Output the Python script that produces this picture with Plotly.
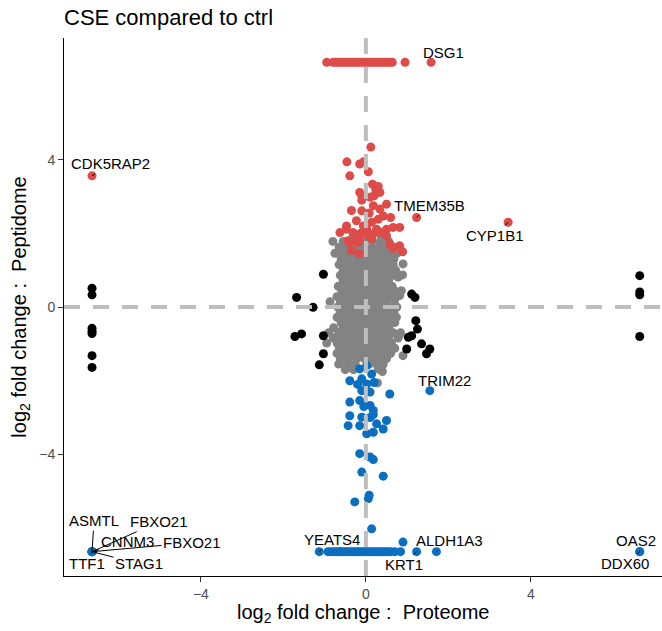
import plotly.graph_objects as go

# ---------------- data (log2 fold changes) ----------------
# not significant (grey)
gray_x = [
    -0.31, 0.10, 0.38,
    -0.80, -0.55, -0.30, -0.05, 0.15, 0.35, 0.55,
    -0.65, -0.45, -0.25, -0.05, 0.15, 0.32, 0.50, 0.72,
    -0.75, -0.55, -0.36, -0.18, 0.00, 0.18, 0.36, 0.55, 0.75,
    -0.60, -0.42, -0.22, -0.04, 0.14, 0.32, 0.50, 0.68,
    -0.65, -0.45, -0.26, -0.08, 0.10, 0.28, 0.46, 0.66, 0.90,
    -0.55, -0.36, -0.18, 0.00, 0.18, 0.36, 0.55, 0.72,
    -0.62, -0.44, -0.25, -0.06, 0.12, 0.30, 0.50, 0.66, 0.89,
    -0.55, -0.36, -0.18, 0.00, 0.18, 0.36, 0.55, 0.78,
    -0.67, -0.46, -0.27, -0.08, 0.10, 0.28, 0.46, 0.64,
    -0.58, -0.40, -0.20, -0.02, 0.16, 0.34, 0.52, 0.72, 0.86,
    -0.70, -0.50, -0.30, -0.12, 0.06, 0.24, 0.42, 0.60, 0.82,
    -0.87, -0.62, -0.42, -0.22, -0.04, 0.14, 0.32, 0.50, 0.70,
    -0.68, -0.50, -0.30, -0.12, 0.06, 0.24, 0.42, 0.60, 0.75,
    -0.62, -0.42, -0.22, -0.04, 0.14, 0.32, 0.50, 0.68,
    -0.70, -0.50, -0.30, -0.12, 0.06, 0.24, 0.42, 0.60, 0.74,
    -0.60, -0.40, -0.20, -0.02, 0.16, 0.34, 0.52, 0.70,
    -0.78, -0.55, -0.35, -0.16, 0.02, 0.20, 0.38, 0.56, 0.80,
    -0.90, -0.66, -0.45, -0.26, -0.08, 0.10, 0.28, 0.46, 0.66, 0.84,
    -0.79, -0.58, -0.38, -0.18, 0.00, 0.18, 0.36, 0.55, 0.78,
    -0.95, -0.70, -0.50, -0.30, -0.10, 0.08, 0.26, 0.44, 0.62,
    -0.64, -0.44, -0.24, -0.06, 0.12, 0.30, 0.50, 0.70, 0.90,
    -0.70, -0.50, -0.30, -0.12, 0.06, 0.24, 0.42, 0.60,
    -0.62, -0.42, -0.22, -0.04, 0.14, 0.32, 0.50,
    -0.66, -0.46, -0.26, 0.08, 0.26, 0.42,
    -0.50, -0.30, 0.30, 0.40,
    0.28,
]
gray_y = [
    1.92, 1.92, 1.92,
    1.78, 1.78, 1.78, 1.78, 1.78, 1.78, 1.78,
    1.62, 1.62, 1.62, 1.62, 1.62, 1.62, 1.62, 1.62,
    1.46, 1.46, 1.46, 1.46, 1.46, 1.46, 1.46, 1.46, 1.46,
    1.30, 1.30, 1.30, 1.30, 1.30, 1.30, 1.30, 1.30,
    1.15, 1.15, 1.15, 1.15, 1.15, 1.15, 1.15, 1.15, 1.17,
    1.00, 1.00, 1.00, 1.00, 1.00, 1.00, 1.00, 1.00,
    0.86, 0.86, 0.86, 0.86, 0.86, 0.86, 0.86, 0.86, 0.87,
    0.71, 0.71, 0.71, 0.71, 0.71, 0.71, 0.71, 0.81,
    0.56, 0.56, 0.56, 0.56, 0.56, 0.56, 0.56, 0.56,
    0.42, 0.42, 0.42, 0.42, 0.42, 0.42, 0.42, 0.42, 0.44,
    0.28, 0.28, 0.28, 0.28, 0.28, 0.28, 0.28, 0.28, 0.31,
    0.14, 0.14, 0.14, 0.14, 0.14, 0.14, 0.14, 0.14, 0.20,
    0.00, 0.00, 0.00, 0.00, 0.00, 0.00, 0.00, 0.00, 0.00,
    -0.14, -0.14, -0.14, -0.14, -0.14, -0.14, -0.14, -0.14,
    -0.28, -0.28, -0.28, -0.28, -0.28, -0.28, -0.28, -0.28, -0.28,
    -0.42, -0.42, -0.42, -0.42, -0.42, -0.42, -0.42, -0.42,
    -0.56, -0.56, -0.56, -0.56, -0.56, -0.56, -0.56, -0.56, -0.78,
    -0.70, -0.70, -0.70, -0.70, -0.70, -0.70, -0.70, -0.70, -0.70, -0.70,
    -0.84, -0.84, -0.84, -0.84, -0.84, -0.84, -0.84, -0.84, -0.84,
    -0.98, -0.98, -0.98, -0.98, -0.98, -0.98, -0.98, -0.98, -0.98,
    -1.12, -1.12, -1.12, -1.12, -1.12, -1.12, -1.12, -1.12, -1.32,
    -1.26, -1.26, -1.26, -1.26, -1.26, -1.26, -1.26, -1.26,
    -1.40, -1.40, -1.40, -1.40, -1.40, -1.40, -1.40,
    -1.55, -1.55, -1.55, -1.55, -1.55, -1.55,
    -1.70, -1.70, -1.68, -1.75,
    -2.06,
]

# large fold change in one data set only (black)
black_x = [-1.03, -1.68, -1.28, 1.11, 1.19, 1.21, 1.25, -1.72, -1.56, -1.03,
           1.03, 1.11, 0.99, 1.35, 1.55, 1.47, -1.03, -1.13,
           -6.64, -6.64, -6.64, -6.64, -6.64, -6.64, -6.64,
           6.64, 6.64, 6.64, 6.64]
black_y = [0.89, 0.26, -0.01, 0.35, 0.26, -0.37, -0.60, -0.80, -0.73, -0.78,
           -0.82, -0.78, -1.14, -1.00, -1.14, -1.27, -1.27, -1.57,
           0.51, 0.33, -0.58, -0.66, -0.72, -1.32, -1.64,
           0.85, 0.41, 0.33, -0.80]

# up-regulated in peptidome (red)
red_x = [-0.95, -0.80, -0.74, -0.68, -0.62, -0.56, -0.50, -0.44, -0.38, -0.32,
         -0.26, -0.20, -0.14, -0.08, -0.02, 0.04, 0.10, 0.16, 0.22, 0.28,
         0.34, 0.40, 0.46, 0.52, 0.58, 0.64, 0.95, 1.58,
         0.12, -0.46, -0.15, -0.06, -0.39, 0.06, 0.16, 0.30, 0.24,
         -0.15, -0.10, 0.20, 0.34, 0.10, -0.10,
         -0.35, -0.10, 0.18, 0.34, 0.08, 0.50, 0.42, 0.60,
         -0.23, 0.30, 0.14, -0.06, -0.47,
         -0.63, -0.47, -0.31, 0.02, 0.26, 0.50, 0.82, 0.66,
         -0.23, 0.06, 0.50, -0.13, 0.18, 0.38,
         -0.39, -0.15, 0.14, 0.58, 0.82,
         -0.43, -0.19, -0.35, -0.16, 0.66, 0.89,
         1.23, 3.45, -6.64]
red_y = [6.64] * 28 + [
         4.34, 3.94, 3.88, 3.94, 3.56, 3.67, 3.33, 3.27, 3.18,
         3.11, 3.02, 3.02, 3.11, 2.98, 2.90,
         2.62, 2.61, 2.75, 2.66, 2.55, 2.79, 2.47, 2.43,
         2.34, 2.38, 2.30, 2.20, 2.20,
         2.02, 2.11, 2.02, 2.11, 2.11, 2.11, 2.16, 2.16,
         1.93, 1.93, 1.93, 2.00, 1.98, 2.02,
         1.75, 1.80, 1.85, 1.71, 1.66,
         1.80, 1.75, 1.53, 1.44, 1.59, 1.50,
         2.43, 2.30, 3.56]

# down-regulated in peptidome (blue)
blue_x = [0.02, -0.15, 0.14, -0.39, -0.10, 0.02, -0.20, 0.20,
          -0.10, 0.10, 0.58, -0.39, -0.15, 0.10, 0.18, -0.05,
          -0.39, -0.10, 0.10, 0.18, 0.50, -0.43, -0.15, 0.26, 0.42, 0.02, 0.18,
          -0.15, 0.10, 0.18, -0.10, 0.42, 0.08, 0.06, -0.27, 0.14,
          1.55,
          -0.92, -0.85, -0.78, -0.72, -0.66, -0.60, -0.54, -0.48, -0.42, -0.36,
          -0.30, -0.24, -0.18, -0.12, -0.06, 0.00, 0.06, 0.12, 0.18, 0.24,
          0.30, 0.36, 0.42, 0.48, 0.54, 0.60, 0.70, 0.84, 0.90,
          -0.63, -1.13, 1.23, 1.71, 6.64, 6.64,
          -6.64, -6.64, -6.64, -6.64, -6.64, -6.64]
blue_y = [-1.59, -1.68, -1.82, -2.00, -1.95, -2.09, -2.10, -2.05,
          -2.27, -2.31, -2.36, -2.58, -2.54, -2.67, -2.81, -2.70,
          -2.95, -2.99, -3.00, -2.92, -3.08, -3.22, -3.22, -3.17, -3.31, -3.44, -3.40,
          -3.98, -4.07, -4.14, -4.48, -4.59, -5.11, -5.20, -5.29, -6.02,
          -2.27] + [-6.64] * 28 + [
          -6.38, -6.64, -6.64, -6.64, -6.64, -6.64,
          -6.64, -6.64, -6.64, -6.64, -6.64, -6.64]

# labelled genes: name, x, y, label offset (px)
label_names = ["DSG1", "CDK5RAP2", "TMEM35B", "CYP1B1", "TRIM22", "YEATS4",
               "KRT1", "ALDH1A3", "OAS2", "DDX60",
               "ASMTL", "FBXO21", "CNNM3", "FBXO21", "TTF1", "STAG1"]
label_x = [1.58, -6.64, 1.23, 3.45, 1.55, -1.13, 1.23, 1.71, 6.64, 6.64,
           -6.64, -6.64, -6.64, -6.64, -6.64, -6.64]
label_y = [6.64, 3.56, 2.43, 2.30, -2.27, -6.64, -6.64, -6.64, -6.64, -6.64,
           -6.64, -6.64, -6.64, -6.64, -6.64, -6.64]
label_dx = [12, 18, 13, -13, 15, 13, -13, 13, -4, -15, 2, 67, 35, 100, -5, 47]
label_dy = [-10, -12, -12, 13, -10, -12, 13, -11, -11, 12, -31, -30, -10, -9, 12, 12]

x_ticks = [-4, 0, 4]
y_ticks = [-4, 0, 4]
x_title = "log<sub>2</sub> fold change :  Proteome"
y_title = "log<sub>2</sub> fold change :  Peptidome"

# ---------------- figure ----------------
RED = "#DE4B49"
BLUE = "#0A6FC0"
GREY = "#838383"
FONT = "Arial, Liberation Sans, Helvetica, sans-serif"

fig = go.Figure()
for xs, ys, col in [(gray_x, gray_y, GREY), (black_x, black_y, "black"),
                    (red_x, red_y, RED), (blue_x, blue_y, BLUE)]:
    fig.add_trace(go.Scatter(x=xs, y=ys, mode="markers",
                             marker=dict(size=9, color=col, line=dict(width=0)),
                             showlegend=False, hoverinfo="skip"))

for n, x, y, dx, dy in zip(label_names, label_x, label_y, label_dx, label_dy):
    fig.add_annotation(x=x, y=y, text=n, showarrow=True, ax=dx, ay=dy,
                       arrowhead=0, arrowwidth=1, arrowcolor="black", standoff=0,
                       font=dict(family=FONT, size=15, color="black"))

# x axis title as an annotation for exact placement
fig.add_annotation(x=0.5, xref="paper", y=-37 / 538, yref="paper",
                   text=x_title, showarrow=False, xanchor="center", yanchor="middle",
                   font=dict(family=FONT, size=20, color="black"))

dash = dict(color="#BEBEBE", width=4, dash="16px,13px")
fig.add_shape(type="line", xref="x", yref="paper", x0=0, x1=0, y0=0, y1=1,
              line=dash, layer="above")
fig.add_shape(type="line", xref="paper", yref="y", x0=0, x1=1, y0=0, y1=0,
              line=dash, layer="above")

axis_common = dict(showgrid=False, zeroline=False, showline=True,
                   linecolor="black", linewidth=1, ticks="outside", ticklen=5,
                   tickwidth=1, tickcolor="#333333",
                   tickfont=dict(family=FONT, size=14, color="#4D4D4D"))

fig.update_layout(
    width=662, height=631,
    margin=dict(l=64, r=0, t=38, b=55),
    plot_bgcolor="white", paper_bgcolor="white",
    font=dict(family=FONT, color="black"),
    title=dict(text="CSE compared to ctrl", x=0, xref="paper", xanchor="left",
               y=1 - 17 / 631, yref="container", yanchor="middle",
               font=dict(family=FONT, size=22, color="black")),
    xaxis=dict(range=[-7.32, 7.18], tickvals=x_ticks,
               ticktext=["\u22124", "0", "4"], **axis_common),
    yaxis=dict(range=[-7.3, 7.3], tickvals=y_ticks,
               ticktext=["\u22124", "0", "4"],
               title=dict(text=y_title,
                          font=dict(family=FONT, size=20, color="black"),
                          standoff=7),
               **axis_common),
)

fig.write_html("out.html")
